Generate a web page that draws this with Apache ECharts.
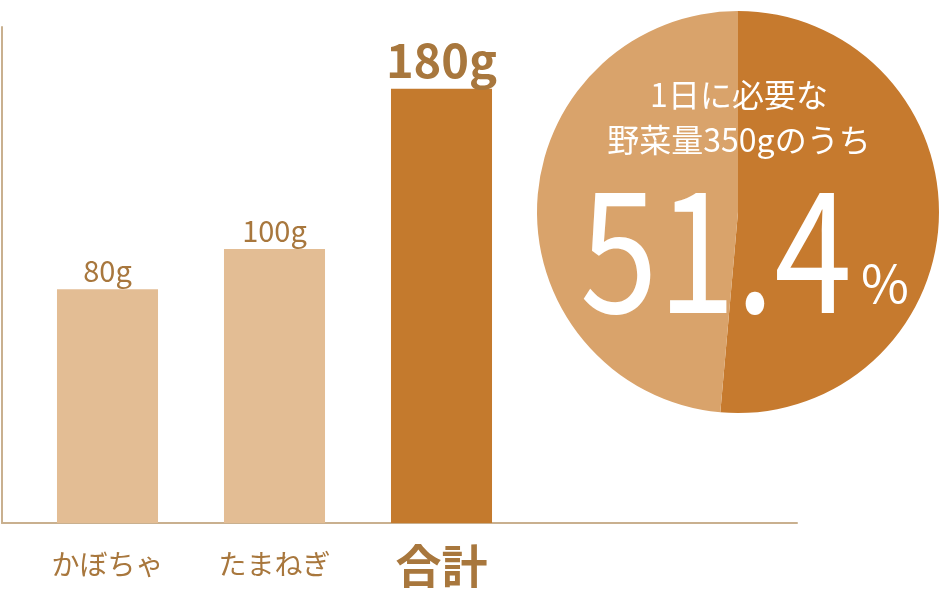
<!DOCTYPE html>
<html>
<head>
<meta charset="utf-8">
<script src="https://cdn.jsdelivr.net/npm/echarts@6/dist/echarts.min.js"></script>
<style>
  html, body { margin: 0; padding: 0; background: #ffffff; }
  #chart { width: 940px; height: 590px; }
</style>
</head>
<body>
<div id="chart"></div>
<script>
// ---- data ----
const categories = ['かぼちゃ', 'たまねぎ', '合計'];
const amounts = [80, 100, 180];
const unit = 'g';
const dailyNeed = 350;
const shareNames = ['合計の割合', '残り'];
const shareValues = [51.4, 48.6];
const noteLines = ['1日に必要な', '野菜量' + dailyNeed + unit + 'のうち'];

// ---- styles ----
const FONT = '"Noto Sans CJK JP", "Noto Sans", sans-serif';
const TEXT = '#A8773D';
const AXIS = '#C9B08F';
const BAR_LIGHT = '#E3BD94';
const BAR_DARK = '#C47A2D';
const PIE_DARK = '#C67A2E';
const PIE_LIGHT = '#D9A36B';
const Y_MIN = -36.7, Y_MAX = 210.8;

const chart = echarts.init(document.getElementById('chart'), null, { renderer: 'canvas' });

const option = {
  animation: false,
  backgroundColor: '#ffffff',
  textStyle: { fontFamily: FONT },
  grid: [
    { left: 2, right: 143, top: 27, bottom: 67 },
    { left: 24, right: 415, top: 27, bottom: 67 }
  ],
  xAxis: [
    { gridIndex: 0, type: 'value', min: 0, max: 1,
      axisLine: { show: true, lineStyle: { color: AXIS, width: 2 } },
      axisTick: { show: false }, axisLabel: { show: false }, splitLine: { show: false } },
    { gridIndex: 1, type: 'category', data: categories,
      axisLine: { show: false }, axisTick: { show: false }, splitLine: { show: false },
      axisLabel: {
        margin: 20,
        interval: 0,
        formatter: function (v) { return v === '合計' ? '{b|' + v + '}' : '{a|' + v + '}'; },
        rich: {
          a: { fontFamily: FONT, fontSize: 28, color: TEXT, padding: [7, 0, 0, 0] },
          b: { fontFamily: FONT, fontSize: 46, fontWeight: 'bold', color: TEXT }
        }
      } }
  ],
  yAxis: [
    { gridIndex: 0, type: 'value', min: 0, max: 1,
      axisLine: { show: true, lineStyle: { color: AXIS, width: 2 } },
      axisTick: { show: false }, axisLabel: { show: false }, splitLine: { show: false } },
    { gridIndex: 1, type: 'value', min: Y_MIN, max: Y_MAX, show: false,
      splitLine: { show: false } }
  ],
  series: [
    {
      type: 'custom',
      xAxisIndex: 1, yAxisIndex: 1,
      data: amounts.map(function (v, i) { return [i, v]; }),
      renderItem: function (params, api) {
        const idx = params.dataIndex;
        const top = api.coord([api.value(0), api.value(1)]);
        const base = api.coord([api.value(0), Y_MIN]);
        const w = api.size([1, 0])[0] * 0.605;
        const isTotal = idx === amounts.length - 1;
        return {
          type: 'rect',
          shape: { x: top[0] - w / 2, y: top[1], width: w, height: base[1] - top[1] },
          style: { fill: isTotal ? BAR_DARK : BAR_LIGHT },
          textContent: {
            style: {
              text: api.value(1) + unit,
              fill: TEXT,
              fontFamily: FONT,
              fontSize: isTotal ? 47 : 29,
              fontWeight: isTotal ? 'bold' : 'normal'
            }
          },
          textConfig: { position: 'top', distance: isTotal ? 5 : 4 }
        };
      }
    },
    {
      type: 'pie',
      center: [738, 212],
      radius: 201,
      startAngle: 90,
      clockwise: true,
      silent: true,
      label: { show: false },
      labelLine: { show: false },
      itemStyle: { borderWidth: 0 },
      data: [
        { name: shareNames[0], value: shareValues[0], itemStyle: { color: PIE_DARK } },
        { name: shareNames[1], value: shareValues[1], itemStyle: { color: PIE_LIGHT } }
      ]
    }
  ],
  graphic: [
    { type: 'text', z: 100, x: 739, y: 117,
      style: { text: noteLines.join('\n'), fill: '#ffffff', fontFamily: FONT, fontSize: 32,
               lineHeight: 45, textAlign: 'center', align: 'center',
               verticalAlign: 'middle', textVerticalAlign: 'middle' } },
    { type: 'text', z: 100, x: 716, y: 249, scaleY: 1.2,
      style: { text: String(shareValues[0]), fill: '#ffffff', fontFamily: FONT, fontSize: 140,
               textAlign: 'center', align: 'center',
               verticalAlign: 'middle', textVerticalAlign: 'middle' } },
    { type: 'text', z: 100, x: 885, y: 283,
      style: { text: '%', fill: '#ffffff', fontFamily: FONT, fontSize: 52,
               textAlign: 'center', align: 'center',
               verticalAlign: 'middle', textVerticalAlign: 'middle' } }
  ]
};

chart.setOption(option);
</script>
</body>
</html>
